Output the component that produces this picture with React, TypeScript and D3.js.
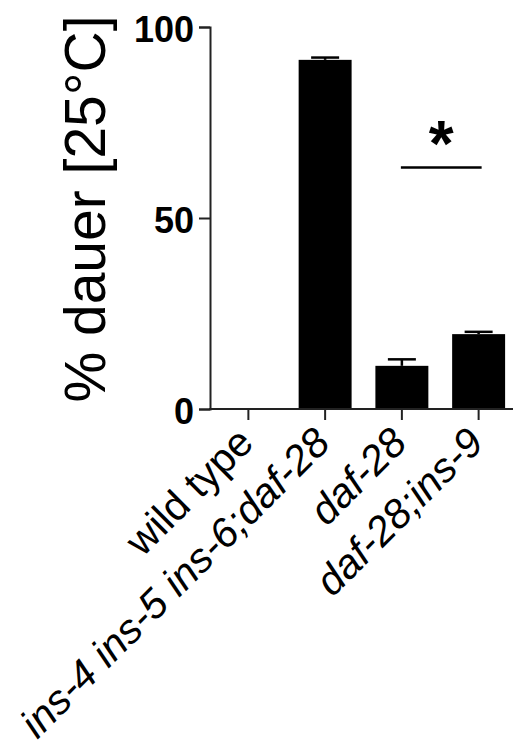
import React, { useEffect, useRef } from "react";
import * as d3 from "d3";

// data
const categories = ["wild type", "ins-4 ins-5 ins-6;daf-28", "daf-28", "daf-28;ins-9"];
const italicLabel = [false, true, true, true];
const means = [0, 91.4, 11.3, 19.6];
const sems = [0, 0.6, 1.7, 0.6];
const yTicks = [0, 50, 100];
const sigPair = ["daf-28", "daf-28;ins-9"];

const W = 513;
const H = 755;
const FONT = "'Liberation Sans', Arial, Helvetica, sans-serif";

export default function App() {
  const svgRef = useRef<SVGSVGElement>(null);

  useEffect(() => {
    const svg = d3.select(svgRef.current);
    svg.selectAll("*").remove();

    const x = d3
      .scaleBand<string>()
      .domain(categories)
      .range([210, 517])
      .paddingInner(0.31)
      .paddingOuter(0.155);

    const y = d3.scaleLinear().domain([0, 100]).range([409, 27]);

    const rows = categories.map((c, i) => ({ c, v: means[i], e: sems[i], it: italicLabel[i] }));

    // bars
    svg
      .append("g")
      .selectAll("rect")
      .data(rows.filter((d) => d.v > 0))
      .join("rect")
      .attr("x", (d) => x(d.c)!)
      .attr("width", x.bandwidth())
      .attr("y", (d) => y(d.v))
      .attr("height", (d) => y(0) - y(d.v))
      .attr("fill", "#000");

    // error bars (upper only)
    const eb = svg
      .append("g")
      .attr("stroke", "#000")
      .attr("stroke-width", 2.5)
      .selectAll("g")
      .data(rows.filter((d) => d.v > 0))
      .join("g");
    eb.append("line")
      .attr("x1", (d) => x(d.c)! + x.bandwidth() / 2)
      .attr("x2", (d) => x(d.c)! + x.bandwidth() / 2)
      .attr("y1", (d) => y(d.v))
      .attr("y2", (d) => y(d.v + d.e));
    eb.append("line")
      .attr("x1", (d) => x(d.c)! + x.bandwidth() / 2 - 14)
      .attr("x2", (d) => x(d.c)! + x.bandwidth() / 2 + 14)
      .attr("y1", (d) => y(d.v + d.e))
      .attr("y2", (d) => y(d.v + d.e));

    // y axis
    const yAxis = svg
      .append("g")
      .attr("transform", "translate(210,0)")
      .call(d3.axisLeft(y).tickValues(yTicks).tickSize(11).tickPadding(5));
    yAxis.select(".domain").attr("stroke", "#222").attr("stroke-width", 2);
    yAxis.selectAll(".tick line").attr("stroke", "#222").attr("stroke-width", 2);
    yAxis
      .selectAll(".tick text")
      .attr("font-family", FONT)
      .attr("font-size", 36)
      .attr("font-weight", "bold")
      .attr("fill", "#000")
      .attr("dy", "0.4em");

    // x axis
    svg
      .append("line")
      .attr("x1", 209)
      .attr("x2", 513)
      .attr("y1", y(0))
      .attr("y2", y(0))
      .attr("stroke", "#222")
      .attr("stroke-width", 2);
    const xt = svg.append("g").selectAll("g").data(rows).join("g");
    xt.append("line")
      .attr("x1", (d) => x(d.c)! + x.bandwidth() / 2)
      .attr("x2", (d) => x(d.c)! + x.bandwidth() / 2)
      .attr("y1", y(0))
      .attr("y2", y(0) + 11)
      .attr("stroke", "#222")
      .attr("stroke-width", 2);
    xt.append("text")
      .attr(
        "transform",
        (d) => `translate(${x(d.c)! + x.bandwidth() / 2 + 7},445) rotate(-45)`
      )
      .attr("text-anchor", "end")
      .attr("font-family", FONT)
      .attr("font-size", 41)
      .attr("font-style", (d) => (d.it ? "italic" : "normal"))
      .attr("fill", "#000")
      .text((d) => d.c);

    // y axis title
    svg
      .append("text")
      .attr("transform", `translate(105,${(y(0) + y(100)) / 2 - 9}) rotate(-90)`)
      .attr("text-anchor", "middle")
      .attr("font-family", FONT)
      .attr("font-size", 57)
      .attr("fill", "#000")
      .text("% dauer [25°C]");

    // significance bracket
    const x1 = x(sigPair[0])! + x.bandwidth() / 2;
    const x2 = x(sigPair[1])! + x.bandwidth() / 2;
    svg
      .append("line")
      .attr("x1", x1 - 1)
      .attr("x2", x2 + 3)
      .attr("y1", y(63.2))
      .attr("y2", y(63.2))
      .attr("stroke", "#000")
      .attr("stroke-width", 2.5);
    svg
      .append("text")
      .attr("x", (x1 + x2) / 2 + 1)
      .attr("y", y(63.2) - 2)
      .attr("text-anchor", "middle")
      .attr("font-family", FONT)
      .attr("font-size", 64)
      .attr("font-weight", "bold")
      .attr("fill", "#000")
      .text("*");
  }, []);

  return (
    <svg
      ref={svgRef}
      width={W}
      height={H}
      style={{ position: "absolute", left: 0, top: 0, background: "#fff" }}
    />
  );
}
